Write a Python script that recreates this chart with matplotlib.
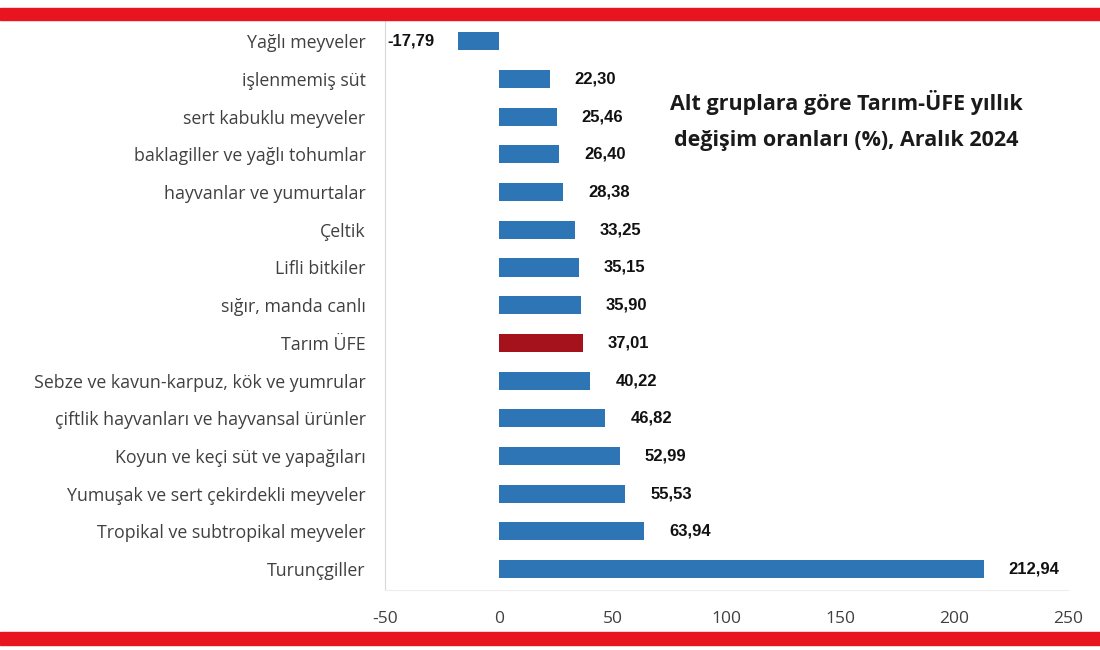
import matplotlib.pyplot as plt
from matplotlib.patches import Rectangle

categories = [
    'Yağlı meyveler',
    'işlenmemiş süt',
    'sert kabuklu meyveler',
    'baklagiller ve yağlı tohumlar',
    'hayvanlar ve yumurtalar',
    'Çeltik',
    'Lifli bitkiler',
    'sığır, manda canlı',
    'Tarım ÜFE',
    'Sebze ve kavun-karpuz, kök ve yumrular',
    'çiftlik hayvanları ve hayvansal ürünler',
    'Koyun ve keçi süt ve yapağıları',
    'Yumuşak ve sert çekirdekli meyveler',
    'Tropikal ve subtropikal meyveler',
    'Turunçgiller',
]
values = [-17.79, 22.30, 25.46, 26.40, 28.38, 33.25, 35.15, 35.90, 37.01,
          40.22, 46.82, 52.99, 55.53, 63.94, 212.94]
xticks = [-50, 0, 50, 100, 150, 200, 250]
title = 'Alt gruplara göre Tarım-ÜFE yıllık\ndeğişim oranları (%), Aralık 2024'

blue = '#2E75B6'
dark_red = '#A6121B'
band_red = '#E8141F'

fig = plt.figure(figsize=(11, 6.5), dpi=100)
ax = fig.add_axes([0.35, 0.092, 0.621, 0.877])

colors = [dark_red if c == 'Tarım ÜFE' else blue for c in categories]
ypos = range(len(categories))
ax.barh(ypos, values, height=0.48, color=colors)

ax.set_xlim(-50, 250)
ax.set_ylim(len(categories) - 0.44, -0.56)
ax.set_yticks(list(ypos))
ax.set_yticklabels(categories, fontsize=12.8, color='#404040', family='Open Sans')
ax.set_xticks(xticks)
ax.set_xticklabels([str(t) for t in xticks], fontsize=12.5, color='#404040', family='Open Sans')
ax.tick_params(axis='y', length=0, pad=14)
ax.tick_params(axis='x', length=0, pad=15)

for s in ['top', 'right']:
    ax.spines[s].set_visible(False)
ax.spines['left'].set_color('#D9D9D9')
ax.spines['bottom'].set_color('#EDEDED')

for y, v in zip(ypos, values):
    txt = f'{v:.2f}'.replace('.', ',')
    if v < 0:
        ax.annotate(txt, (v, y), xytext=(-17, 0), textcoords='offset points',
                    ha='right', va='center', fontsize=12, fontweight='bold',
                    family='Liberation Sans', color='#111111')
    else:
        ax.annotate(txt, (v, y), xytext=(18, 0), textcoords='offset points',
                    ha='left', va='center', fontsize=12, fontweight='bold',
                    family='Liberation Sans', color='#111111')

fig.text(0.769, 0.815, title, ha='center', va='center', fontsize=15.5,
         fontweight='bold', color='#1a1a1a', family='Open Sans', linespacing=1.95)

# red bands at top and bottom
fig.patches.append(Rectangle((0, 1 - 20 / 650), 1, 12 / 650, transform=fig.transFigure,
                             color=band_red, zorder=5))
fig.patches.append(Rectangle((0, 5 / 650), 1, 13 / 650, transform=fig.transFigure,
                             color=band_red, zorder=5))

fig.savefig('out.png', dpi=100)
